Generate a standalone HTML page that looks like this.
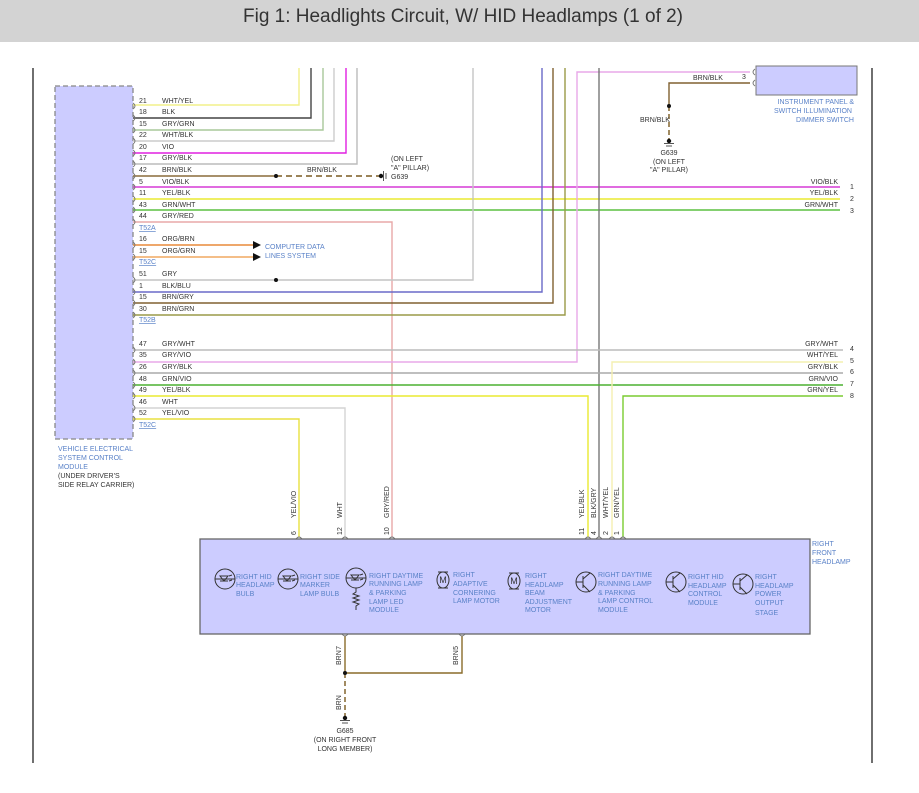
<!DOCTYPE html>
<html><head><meta charset="utf-8"><style>
html,body{margin:0;padding:0;background:#fff;}
svg{display:block;}
text{font-family:"Liberation Sans",sans-serif;}
.t{font-size:7px;fill:#333;}
.b{font-size:7px;fill:#5a82c8;}
</style></head><body>
<svg width="919" height="793" viewBox="0 0 919 793" xmlns="http://www.w3.org/2000/svg">
<rect x="0" y="0" width="919" height="42" fill="#d3d3d3"/>
<text x="463" y="22" text-anchor="middle" style="font-size:19px;fill:#333;font-family:'Liberation Sans Narrow','Liberation Sans',sans-serif" textLength="440" lengthAdjust="spacingAndGlyphs">Fig 1: Headlights Circuit, W/ HID Headlamps (1 of 2)</text>
<line x1="33" y1="68" x2="33" y2="763" stroke="#222" stroke-width="1.3"/>
<line x1="872" y1="68" x2="872" y2="763" stroke="#222" stroke-width="1.3"/>

<!-- module -->
<rect x="55" y="86" width="78" height="353" fill="#ccccff" stroke="#888" stroke-width="1.3" stroke-dasharray="5,3"/>

<g fill="none" stroke-width="1.4">
<!-- upper wires going up -->
<polyline points="133,105 299,105 299,68" stroke="#f2f08a"/>
<polyline points="133,118 311,118 311,68" stroke="#444"/>
<polyline points="133,130 323,130 323,68" stroke="#a8c89a"/>
<polyline points="133,141 334,141 334,68" stroke="#ccc"/>
<polyline points="133,153 346,153 346,68" stroke="#e020e0"/>
<polyline points="133,164 357,164 357,68" stroke="#bbb"/>
<polyline points="133,176 276,176" stroke="#8a6c3a"/>
<line x1="276" y1="176" x2="381" y2="176" stroke="#7a5a20" stroke-dasharray="6,4"/>
<line x1="133" y1="187" x2="840" y2="187" stroke="#d53ad5"/>
<line x1="133" y1="199" x2="840" y2="199" stroke="#eaea30"/>
<line x1="133" y1="210" x2="840" y2="210" stroke="#5cc040"/>
<polyline points="133,222 392,222 392,537" stroke="#e8a8a8"/>
<line x1="133" y1="245" x2="255" y2="245" stroke="#e88a3a"/>
<line x1="133" y1="257" x2="255" y2="257" stroke="#f0a860"/>
<polyline points="133,280 473,280 473,68" stroke="#c4c4c4"/>
<polyline points="133,292 542,292 542,68" stroke="#6a6ac8"/>
<polyline points="133,303 553,303 553,68" stroke="#806030"/>
<polyline points="133,315 565,315 565,68" stroke="#9a9a48"/>
<polyline points="133,362 577,362 577,72 750,72" stroke="#e8a8e8"/>
<line x1="599" y1="68" x2="599" y2="537" stroke="#777"/>
<polyline points="750,83 669,83 669,106" stroke="#806030"/>
<line x1="669" y1="106" x2="669" y2="141" stroke="#7a5a20" stroke-dasharray="5,3"/>
<!-- lower wires -->
<line x1="133" y1="350" x2="843" y2="350" stroke="#bbb"/>
<line x1="133" y1="373" x2="843" y2="373" stroke="#aaa"/>
<line x1="133" y1="385" x2="843" y2="385" stroke="#4cb030"/>
<polyline points="133,396 588,396 588,537" stroke="#eaea30"/>
<polyline points="843,362 612,362 612,537" stroke="#f4f0b0"/>
<polyline points="843,396 623,396 623,537" stroke="#7acc30"/>
<polyline points="133,408 345,408 345,537" stroke="#d4d4d4"/>
<polyline points="133,419 299,419 299,537" stroke="#e8e040"/>
<!-- bottom -->
<polyline points="345,636 345,673 462,673 462,636" stroke="#8a6c2a"/>
<line x1="345" y1="673" x2="345" y2="718" stroke="#7a5a20" stroke-dasharray="5,3"/>
</g>

<!-- connector brackets on module -->
<g fill="none" stroke="#777" stroke-width="0.9">
<path d="M133,103 q4,3 0,6 M133,115 q4,3 0,6 M133,127 q4,3 0,6 M133,138 q4,3 0,6 M133,150 q4,3 0,6 M133,161 q4,3 0,6 M133,173 q4,3 0,6 M133,184 q4,3 0,6 M133,196 q4,3 0,6 M133,207 q4,3 0,6 M133,219 q4,3 0,6 M133,242 q4,3 0,6 M133,254 q4,3 0,6 M133,277 q4,3 0,6 M133,289 q4,3 0,6 M133,300 q4,3 0,6 M133,312 q4,3 0,6 M133,347 q4,3 0,6 M133,359 q4,3 0,6 M133,370 q4,3 0,6 M133,382 q4,3 0,6 M133,393 q4,3 0,6 M133,405 q4,3 0,6 M133,416 q4,3 0,6"/>
<path d="M755,69 q-4,3 0,6 M755,80 q-4,3 0,6"/>
<path d="M296,539 q3,-4 6,0 M342,539 q3,-4 6,0 M389,539 q3,-4 6,0 M585,539 q3,-4 6,0 M596,539 q3,-4 6,0 M609,539 q3,-4 6,0 M620,539 q3,-4 6,0"/>
<path d="M342,634 q3,4 6,0 M459,634 q3,4 6,0"/>
</g>

<!-- dots, arrows, grounds -->
<g fill="#111">
<circle cx="276" cy="176" r="2"/><circle cx="381" cy="176" r="2.2"/>
<circle cx="276" cy="280" r="2"/>
<circle cx="669" cy="106" r="2"/><circle cx="669" cy="141" r="2.2"/>
<circle cx="345" cy="673" r="2"/><circle cx="345" cy="718" r="2.2"/>
<polygon points="253,241 261,245 253,249"/><polygon points="253,253 261,257 253,261"/>
</g>
<g stroke="#555" stroke-width="1">
<line x1="383.5" y1="171" x2="383.5" y2="181"/><line x1="386" y1="173" x2="386" y2="179"/>
<line x1="664" y1="143.5" x2="674" y2="143.5"/><line x1="666" y1="146" x2="672" y2="146"/>
<line x1="340" y1="720.5" x2="350" y2="720.5"/><line x1="342" y1="723" x2="348" y2="723"/>
</g>

<!-- dimmer switch -->
<rect x="756" y="66" width="101" height="29" fill="#ccccff" stroke="#777" stroke-width="1"/>
<text class="t" x="742" y="79">3</text>
<text class="t" x="693" y="80">BRN/BLK</text>
<g class="b" text-anchor="end"><text x="854" y="104">INSTRUMENT PANEL &amp;</text><text x="852" y="113">SWITCH ILLUMINATION</text><text x="854" y="122">DIMMER SWITCH</text></g>
<g class="t" text-anchor="middle"><text x="655" y="122">BRN/BLK</text><text x="669" y="155">G639</text><text x="669" y="164">(ON LEFT</text><text x="669" y="172">"A" PILLAR)</text></g>

<!-- module pin labels -->
<g class="t">
<text x="139" y="103">21</text><text x="162" y="103">WHT/YEL</text>
<text x="139" y="114">18</text><text x="162" y="114">BLK</text>
<text x="139" y="126">15</text><text x="162" y="126">GRY/GRN</text>
<text x="139" y="137">22</text><text x="162" y="137">WHT/BLK</text>
<text x="139" y="149">20</text><text x="162" y="149">VIO</text>
<text x="139" y="160">17</text><text x="162" y="160">GRY/BLK</text>
<text x="139" y="172">42</text><text x="162" y="172">BRN/BLK</text>
<text x="139" y="184">5</text><text x="162" y="184">VIO/BLK</text>
<text x="139" y="195">11</text><text x="162" y="195">YEL/BLK</text>
<text x="139" y="207">43</text><text x="162" y="207">GRN/WHT</text>
<text x="139" y="218">44</text><text x="162" y="218">GRY/RED</text>
<text x="139" y="241">16</text><text x="162" y="241">ORG/BRN</text>
<text x="139" y="253">15</text><text x="162" y="253">ORG/GRN</text>
<text x="139" y="276">51</text><text x="162" y="276">GRY</text>
<text x="139" y="288">1</text><text x="162" y="288">BLK/BLU</text>
<text x="139" y="299">15</text><text x="162" y="299">BRN/GRY</text>
<text x="139" y="311">30</text><text x="162" y="311">BRN/GRN</text>
<text x="139" y="346">47</text><text x="162" y="346">GRY/WHT</text>
<text x="139" y="357">35</text><text x="162" y="357">GRY/VIO</text>
<text x="139" y="369">26</text><text x="162" y="369">GRY/BLK</text>
<text x="139" y="381">48</text><text x="162" y="381">GRN/VIO</text>
<text x="139" y="392">49</text><text x="162" y="392">YEL/BLK</text>
<text x="139" y="404">46</text><text x="162" y="404">WHT</text>
<text x="139" y="415">52</text><text x="162" y="415">YEL/VIO</text>
<text x="307" y="172">BRN/BLK</text>
<text x="391" y="161">(ON LEFT</text><text x="391" y="170">"A" PILLAR)</text><text x="391" y="179">G639</text>
</g>
<g class="b" text-decoration="underline">
<text x="139" y="230">T52A</text><text x="139" y="264">T52C</text><text x="139" y="322">T52B</text><text x="139" y="427">T52C</text>
</g>
<g class="b"><text x="265" y="249">COMPUTER DATA</text><text x="265" y="258">LINES SYSTEM</text></g>
<g class="b"><text x="58" y="451">VEHICLE ELECTRICAL</text><text x="58" y="460">SYSTEM CONTROL</text><text x="58" y="469">MODULE</text></g>
<g class="t"><text x="58" y="478">(UNDER DRIVER'S</text><text x="58" y="487">SIDE RELAY CARRIER)</text></g>

<!-- right side labels -->
<g class="t" text-anchor="end">
<text x="838" y="184">VIO/BLK</text><text x="838" y="195">YEL/BLK</text><text x="838" y="207">GRN/WHT</text>
<text x="838" y="346">GRY/WHT</text><text x="838" y="357">WHT/YEL</text><text x="838" y="369">GRY/BLK</text><text x="838" y="381">GRN/VIO</text><text x="838" y="392">GRN/YEL</text>
</g>
<g class="t"><text x="850" y="189">1</text><text x="850" y="201">2</text><text x="850" y="213">3</text>
<text x="850" y="351">4</text><text x="850" y="363">5</text><text x="850" y="374">6</text><text x="850" y="386">7</text><text x="850" y="398">8</text></g>

<!-- rotated pin labels -->
<g class="t">
<text transform="translate(296,535) rotate(-90)">6</text><text transform="translate(296,518) rotate(-90)">YEL/VIO</text>
<text transform="translate(342,535) rotate(-90)">12</text><text transform="translate(342,518) rotate(-90)">WHT</text>
<text transform="translate(389,535) rotate(-90)">10</text><text transform="translate(389,518) rotate(-90)">GRY/RED</text>
<text transform="translate(584,535) rotate(-90)">11</text><text transform="translate(584,518) rotate(-90)">YEL/BLK</text>
<text transform="translate(596,535) rotate(-90)">4</text><text transform="translate(596,518) rotate(-90)">BLK/GRY</text>
<text transform="translate(608,535) rotate(-90)">2</text><text transform="translate(608,518) rotate(-90)">WHT/YEL</text>
<text transform="translate(619,535) rotate(-90)">1</text><text transform="translate(619,518) rotate(-90)">GRN/YEL</text>
<text transform="translate(341,646) rotate(-90)" text-anchor="end">7</text><text transform="translate(341,665) rotate(-90)">BRN</text>
<text transform="translate(458,646) rotate(-90)" text-anchor="end">5</text><text transform="translate(458,665) rotate(-90)">BRN</text>
<text transform="translate(341,710) rotate(-90)">BRN</text>
</g>
<g class="t" text-anchor="middle"><text x="345" y="733">G685</text><text x="345" y="742">(ON RIGHT FRONT</text><text x="345" y="751">LONG MEMBER)</text></g>

<!-- component box -->
<rect x="200" y="539" width="610" height="95" fill="#ccccff" stroke="#666" stroke-width="1.3"/>
<g class="b"><text x="812" y="546">RIGHT</text><text x="812" y="555">FRONT</text><text x="812" y="564">HEADLAMP</text></g>

<g fill="none" stroke="#333" stroke-width="1">
<circle cx="225" cy="579" r="10"/><circle cx="288" cy="579" r="10"/><circle cx="356" cy="578" r="10"/>
<path d="M215,579 h20 M220,576 h8 l-4,5 z M220,581 h8 M229,576 l3,-1 M229,581 l3,-1"/>
<path d="M278,579 h20 M283,576 h8 l-4,5 z M283,581 h8 M292,576 l3,-1 M292,581 l3,-1"/>
<path d="M346,578 h20 M351,575 h8 l-4,5 z M351,580 h8 M360,575 l3,-1 M360,580 l3,-1"/>
<path d="M356,588 v4 l-3,2 l6,2 l-6,2 l6,2 l-6,2 l6,2 l-3,2 v4"/>
<ellipse cx="443" cy="580" rx="6" ry="8"/><path d="M438,572 h10 M438,588 h10"/>
<ellipse cx="514" cy="581" rx="6" ry="8"/><path d="M509,573 h10 M509,589 h10"/>
<circle cx="586" cy="582" r="10"/><circle cx="676" cy="582" r="10"/><circle cx="743" cy="584" r="10"/>
<path d="M576,582 h7 M583,576 v12 M583,579 l7,-6 M583,585 l7,7"/>
<path d="M666,582 h7 M673,576 v12 M673,579 l7,-6 M673,585 l7,7"/>
<path d="M733,584 h7 M740,578 v12 M740,581 l7,-6 M740,587 l7,7"/>
</g>
<g style="font-size:9px;fill:#333;font-family:'Liberation Sans',sans-serif" text-anchor="middle"><text x="443" y="583">M</text><text x="514" y="584">M</text></g>
<g class="b">
<text x="236" y="579">RIGHT HID</text><text x="236" y="587">HEADLAMP</text><text x="236" y="596">BULB</text>
<text x="300" y="579">RIGHT SIDE</text><text x="300" y="587">MARKER</text><text x="300" y="596">LAMP BULB</text>
<text x="369" y="578">RIGHT DAYTIME</text><text x="369" y="586">RUNNING LAMP</text><text x="369" y="595">&amp; PARKING</text><text x="369" y="604">LAMP LED</text><text x="369" y="612">MODULE</text>
<text x="453" y="577">RIGHT</text><text x="453" y="586">ADAPTIVE</text><text x="453" y="595">CORNERING</text><text x="453" y="603">LAMP MOTOR</text>
<text x="525" y="578">RIGHT</text><text x="525" y="587">HEADLAMP</text><text x="525" y="595">BEAM</text><text x="525" y="604">ADJUSTMENT</text><text x="525" y="612">MOTOR</text>
<text x="598" y="577">RIGHT DAYTIME</text><text x="598" y="586">RUNNING LAMP</text><text x="598" y="595">&amp; PARKING</text><text x="598" y="603">LAMP CONTROL</text><text x="598" y="612">MODULE</text>
<text x="688" y="579">RIGHT HID</text><text x="688" y="588">HEADLAMP</text><text x="688" y="596">CONTROL</text><text x="688" y="605">MODULE</text>
<text x="755" y="579">RIGHT</text><text x="755" y="588">HEADLAMP</text><text x="755" y="596">POWER</text><text x="755" y="605">OUTPUT</text><text x="755" y="615">STAGE</text>
</g>
</svg>
</body></html>
